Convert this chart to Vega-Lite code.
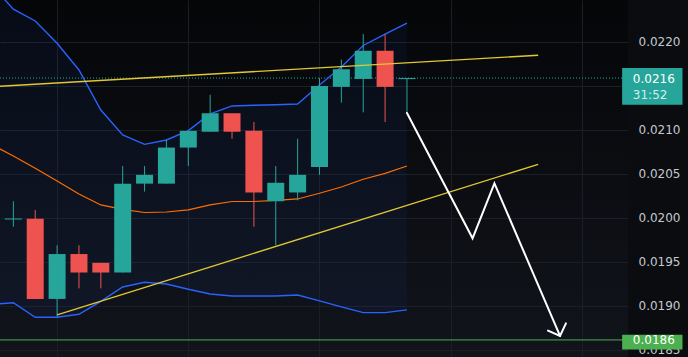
{
  "$schema": "https://vega.github.io/schema/vega-lite/v6.json",
  "width": 628,
  "height": 357,
  "autosize": {"type": "none"},
  "padding": {"left": 0, "top": 0, "right": 60, "bottom": 0},
  "background": "#0a0c10",
  "config": {
    "view": {
      "stroke": null,
      "fill": {"gradient": "linear", "x1": 0, "y1": 0, "x2": 0, "y2": 1,
        "stops": [{"offset": 0, "color": "#050608"}, {"offset": 1, "color": "#11141b"}]}
    },
    "axisX": {"values": [2, 8, 14, 20, 26], "labels": false, "ticks": false, "domain": false,
      "grid": true, "gridColor": "#1b1e27", "gridWidth": 1, "title": null},
    "axisY": {"domain": false, "ticks": false, "grid": true, "gridColor": "#1b1e27",
      "labelColor": "#c5c8ce", "labelFont": "DejaVu Sans", "labelFontSize": 12, "labelPadding": 10,
      "labelFlush": false, "labelOverlap": false, "labelBound": false, "title": null}
  },
  "datasets": {
    "bb": [
      {"i": -1, "up": 0.022648, "mid": 0.020833, "lo": 0.019017},
      {"i": 0, "up": 0.022372, "mid": 0.020705, "lo": 0.019037},
      {"i": 1, "up": 0.022239, "mid": 0.020565, "lo": 0.018872},
      {"i": 2, "up": 0.021985, "mid": 0.02042, "lo": 0.018872},
      {"i": 3, "up": 0.021682, "mid": 0.020273, "lo": 0.018906},
      {"i": 4, "up": 0.021227, "mid": 0.020148, "lo": 0.019053},
      {"i": 5, "up": 0.020943, "mid": 0.020097, "lo": 0.019216},
      {"i": 6, "up": 0.020837, "mid": 0.020062, "lo": 0.019269},
      {"i": 7, "up": 0.020886, "mid": 0.020068, "lo": 0.01925},
      {"i": 8, "up": 0.020992, "mid": 0.020091, "lo": 0.01919},
      {"i": 9, "up": 0.021182, "mid": 0.020148, "lo": 0.019136},
      {"i": 10, "up": 0.021273, "mid": 0.020187, "lo": 0.019114},
      {"i": 11, "up": 0.021281, "mid": 0.020187, "lo": 0.019114},
      {"i": 12, "up": 0.021287, "mid": 0.020201, "lo": 0.019114},
      {"i": 13, "up": 0.021295, "mid": 0.020216, "lo": 0.019125},
      {"i": 14, "up": 0.021511, "mid": 0.020281, "lo": 0.019057},
      {"i": 15, "up": 0.021716, "mid": 0.020352, "lo": 0.018989},
      {"i": 16, "up": 0.02196, "mid": 0.02044, "lo": 0.018924},
      {"i": 17, "up": 0.022088, "mid": 0.020506, "lo": 0.018924},
      {"i": 18, "up": 0.022213, "mid": 0.020591, "lo": 0.018955}
    ],
    "candles": [
      {"i": 0, "o": 0.019982, "h": 0.02019, "l": 0.0199, "c": 0.019994, "dir": "up"},
      {"i": 1, "o": 0.01999, "h": 0.02009, "l": 0.01908, "c": 0.01908, "dir": "down"},
      {"i": 2, "o": 0.01908, "h": 0.01969, "l": 0.01888, "c": 0.01959, "dir": "up"},
      {"i": 3, "o": 0.01959, "h": 0.01969, "l": 0.0192, "c": 0.01938, "dir": "down"},
      {"i": 4, "o": 0.01949, "h": 0.01949, "l": 0.0192, "c": 0.01938, "dir": "down"},
      {"i": 5, "o": 0.01938, "h": 0.02059, "l": 0.01938, "c": 0.02039, "dir": "up"},
      {"i": 6, "o": 0.02039, "h": 0.02059, "l": 0.0203, "c": 0.02049, "dir": "up"},
      {"i": 7, "o": 0.02039, "h": 0.02089, "l": 0.02039, "c": 0.0208, "dir": "up"},
      {"i": 8, "o": 0.0208, "h": 0.02099, "l": 0.02059, "c": 0.02099, "dir": "up"},
      {"i": 9, "o": 0.02098, "h": 0.0214, "l": 0.02098, "c": 0.02119, "dir": "up"},
      {"i": 10, "o": 0.02119, "h": 0.02119, "l": 0.0209, "c": 0.02098, "dir": "down"},
      {"i": 11, "o": 0.02099, "h": 0.02109, "l": 0.0199, "c": 0.02029, "dir": "down"},
      {"i": 12, "o": 0.02019, "h": 0.02059, "l": 0.01969, "c": 0.0204, "dir": "up"},
      {"i": 13, "o": 0.02029, "h": 0.0209, "l": 0.0202, "c": 0.02049, "dir": "up"},
      {"i": 14, "o": 0.02058, "h": 0.02159, "l": 0.02049, "c": 0.0215, "dir": "up"},
      {"i": 15, "o": 0.02149, "h": 0.0218, "l": 0.02131, "c": 0.02169, "dir": "up"},
      {"i": 16, "o": 0.02158, "h": 0.02209, "l": 0.0212, "c": 0.0219, "dir": "up"},
      {"i": 17, "o": 0.0219, "h": 0.02209, "l": 0.02109, "c": 0.02149, "dir": "down"},
      {"i": 18, "o": 0.021578, "h": 0.02159, "l": 0.02119, "c": 0.02159, "dir": "up"}
    ],
    "trend": [
      {"line": "upper", "i": -1, "p": 0.021491},
      {"line": "upper", "i": 24, "p": 0.021849},
      {"line": "lower", "i": 2, "p": 0.018898},
      {"line": "lower", "i": 24, "p": 0.02061}
    ],
    "arrow": [
      {"seg": "shaft", "n": 0, "i": 18, "p": 0.021193},
      {"seg": "shaft", "n": 1, "i": 21, "p": 0.019769},
      {"seg": "shaft", "n": 2, "i": 22, "p": 0.020394},
      {"seg": "shaft", "n": 3, "i": 25, "p": 0.018659},
      {"seg": "head", "n": 0, "i": 24.45, "p": 0.01872},
      {"seg": "head", "n": 1, "i": 25, "p": 0.018659},
      {"seg": "head", "n": 2, "i": 25.27, "p": 0.018803}
    ],
    "boxes": [
      {"kind": "last", "top": 0.021705, "bot": 0.021288},
      {"kind": "target", "top": 0.018674, "bot": 0.018506}
    ],
    "mainText": [
      {"t": "0.0216", "p": 0.021583},
      {"t": "0.0186", "p": 0.018608}
    ],
    "subText": [
      {"t": "31:52", "p": 0.021401}
    ],
    "lastLevel": [{"p": 0.02159}],
    "targetLevel": [{"p": 0.018614}]
  },
  "layer": [
    {
      "data": {"name": "bb"},
      "mark": {"type": "area", "color": "#2962ff", "opacity": 0.06, "clip": true},
      "encoding": {
        "x": {"field": "i", "type": "quantitative", "scale": {"domain": [-0.3825, 27.88], "nice": false, "zero": false}, "axis": {"values": [2, 8, 14, 20, 26]}},
        "y": {"field": "up", "type": "quantitative", "scale": {"domain": [0.01842, 0.022477], "nice": false, "zero": false}, "axis": {"orient": "right", "values": [0.0185, 0.019, 0.0195, 0.02, 0.0205, 0.021, 0.0215, 0.022, 0.0225], "format": ".4f", "labelExpr": "datum.label == '0.0215' ? '' : datum.label"}},
        "y2": {"field": "lo"}
      }
    },
    {
      "data": {"name": "lastLevel"},
      "mark": {"type": "rule", "color": "#26a69a", "strokeWidth": 1, "strokeDash": [1, 2]},
      "encoding": {
        "y": {"field": "p", "type": "quantitative", "scale": {"domain": [0.01842, 0.022477], "nice": false, "zero": false}, "axis": {"orient": "right", "values": [0.0185, 0.019, 0.0195, 0.02, 0.0205, 0.021, 0.0215, 0.022, 0.0225], "format": ".4f", "labelExpr": "datum.label == '0.0215' ? '' : datum.label"}}
      }
    },
    {
      "data": {"name": "bb"},
      "mark": {"type": "line", "color": "#2962ff", "strokeWidth": 1.4, "clip": true},
      "encoding": {
        "x": {"field": "i", "type": "quantitative", "scale": {"domain": [-0.3825, 27.88], "nice": false, "zero": false}, "axis": {"values": [2, 8, 14, 20, 26]}},
        "y": {"field": "up", "type": "quantitative", "scale": {"domain": [0.01842, 0.022477], "nice": false, "zero": false}, "axis": {"orient": "right", "values": [0.0185, 0.019, 0.0195, 0.02, 0.0205, 0.021, 0.0215, 0.022, 0.0225], "format": ".4f", "labelExpr": "datum.label == '0.0215' ? '' : datum.label"}}
      }
    },
    {
      "data": {"name": "bb"},
      "mark": {"type": "line", "color": "#2962ff", "strokeWidth": 1.4, "clip": true},
      "encoding": {
        "x": {"field": "i", "type": "quantitative", "scale": {"domain": [-0.3825, 27.88], "nice": false, "zero": false}, "axis": {"values": [2, 8, 14, 20, 26]}},
        "y": {"field": "lo", "type": "quantitative", "scale": {"domain": [0.01842, 0.022477], "nice": false, "zero": false}, "axis": {"orient": "right", "values": [0.0185, 0.019, 0.0195, 0.02, 0.0205, 0.021, 0.0215, 0.022, 0.0225], "format": ".4f", "labelExpr": "datum.label == '0.0215' ? '' : datum.label"}}
      }
    },
    {
      "data": {"name": "bb"},
      "mark": {"type": "line", "color": "#ff6d00", "strokeWidth": 1.2, "clip": true},
      "encoding": {
        "x": {"field": "i", "type": "quantitative", "scale": {"domain": [-0.3825, 27.88], "nice": false, "zero": false}, "axis": {"values": [2, 8, 14, 20, 26]}},
        "y": {"field": "mid", "type": "quantitative", "scale": {"domain": [0.01842, 0.022477], "nice": false, "zero": false}, "axis": {"orient": "right", "values": [0.0185, 0.019, 0.0195, 0.02, 0.0205, 0.021, 0.0215, 0.022, 0.0225], "format": ".4f", "labelExpr": "datum.label == '0.0215' ? '' : datum.label"}}
      }
    },
    {
      "data": {"name": "candles"},
      "mark": {"type": "rule", "strokeWidth": 1},
      "encoding": {
        "x": {"field": "i", "type": "quantitative", "scale": {"domain": [-0.3825, 27.88], "nice": false, "zero": false}, "axis": {"values": [2, 8, 14, 20, 26]}},
        "y": {"field": "h", "type": "quantitative", "scale": {"domain": [0.01842, 0.022477], "nice": false, "zero": false}, "axis": {"orient": "right", "values": [0.0185, 0.019, 0.0195, 0.02, 0.0205, 0.021, 0.0215, 0.022, 0.0225], "format": ".4f", "labelExpr": "datum.label == '0.0215' ? '' : datum.label"}},
        "y2": {"field": "l"},
        "color": {"field": "dir", "type": "nominal",
          "scale": {"domain": ["up", "down", "last", "target"], "range": ["#26a69a", "#ef5350", "#26a69a", "#4caf50"]}, "legend": null}
      }
    },
    {
      "data": {"name": "candles"},
      "mark": {"type": "bar", "size": 17, "opacity": 1},
      "encoding": {
        "x": {"field": "i", "type": "quantitative", "scale": {"domain": [-0.3825, 27.88], "nice": false, "zero": false}, "axis": {"values": [2, 8, 14, 20, 26]}},
        "y": {"field": "o", "type": "quantitative", "scale": {"domain": [0.01842, 0.022477], "nice": false, "zero": false}, "axis": {"orient": "right", "values": [0.0185, 0.019, 0.0195, 0.02, 0.0205, 0.021, 0.0215, 0.022, 0.0225], "format": ".4f", "labelExpr": "datum.label == '0.0215' ? '' : datum.label"}},
        "y2": {"field": "c"},
        "color": {"field": "dir", "type": "nominal",
          "scale": {"domain": ["up", "down", "last", "target"], "range": ["#26a69a", "#ef5350", "#26a69a", "#4caf50"]}, "legend": null}
      }
    },
    {
      "data": {"name": "trend"},
      "mark": {"type": "line", "color": "#e2c832", "strokeWidth": 1.3, "clip": true},
      "encoding": {
        "x": {"field": "i", "type": "quantitative", "scale": {"domain": [-0.3825, 27.88], "nice": false, "zero": false}, "axis": {"values": [2, 8, 14, 20, 26]}},
        "y": {"field": "p", "type": "quantitative", "scale": {"domain": [0.01842, 0.022477], "nice": false, "zero": false}, "axis": {"orient": "right", "values": [0.0185, 0.019, 0.0195, 0.02, 0.0205, 0.021, 0.0215, 0.022, 0.0225], "format": ".4f", "labelExpr": "datum.label == '0.0215' ? '' : datum.label"}},
        "detail": {"field": "line", "type": "nominal"}
      }
    },
    {
      "data": {"name": "targetLevel"},
      "mark": {"type": "rule", "color": "#4caf50", "strokeWidth": 1},
      "encoding": {
        "y": {"field": "p", "type": "quantitative", "scale": {"domain": [0.01842, 0.022477], "nice": false, "zero": false}, "axis": {"orient": "right", "values": [0.0185, 0.019, 0.0195, 0.02, 0.0205, 0.021, 0.0215, 0.022, 0.0225], "format": ".4f", "labelExpr": "datum.label == '0.0215' ? '' : datum.label"}}
      }
    },
    {
      "data": {"name": "arrow"},
      "mark": {"type": "line", "color": "#ffffff", "strokeWidth": 2, "strokeJoin": "miter", "strokeCap": "round", "clip": true},
      "encoding": {
        "x": {"field": "i", "type": "quantitative", "scale": {"domain": [-0.3825, 27.88], "nice": false, "zero": false}, "axis": {"values": [2, 8, 14, 20, 26]}},
        "y": {"field": "p", "type": "quantitative", "scale": {"domain": [0.01842, 0.022477], "nice": false, "zero": false}, "axis": {"orient": "right", "values": [0.0185, 0.019, 0.0195, 0.02, 0.0205, 0.021, 0.0215, 0.022, 0.0225], "format": ".4f", "labelExpr": "datum.label == '0.0215' ? '' : datum.label"}},
        "detail": {"field": "seg", "type": "nominal"},
        "order": {"field": "n", "type": "quantitative"}
      }
    },
    {
      "data": {"name": "boxes"},
      "mark": {"type": "rect", "clip": false},
      "encoding": {
        "x": {"datum": 27.84, "type": "quantitative", "scale": {"domain": [-0.3825, 27.88], "nice": false, "zero": false}, "axis": {"values": [2, 8, 14, 20, 26]}},
        "x2": {"datum": 30.6},
        "y": {"field": "top", "type": "quantitative", "scale": {"domain": [0.01842, 0.022477], "nice": false, "zero": false}, "axis": {"orient": "right", "values": [0.0185, 0.019, 0.0195, 0.02, 0.0205, 0.021, 0.0215, 0.022, 0.0225], "format": ".4f", "labelExpr": "datum.label == '0.0215' ? '' : datum.label"}},
        "y2": {"field": "bot"},
        "color": {"field": "kind", "type": "nominal",
          "scale": {"domain": ["up", "down", "last", "target"], "range": ["#26a69a", "#ef5350", "#26a69a", "#4caf50"]}, "legend": null}
      }
    },
    {
      "data": {"name": "mainText"},
      "mark": {"type": "text", "align": "left", "baseline": "middle", "font": "DejaVu Sans", "fontSize": 12, "color": "#ffffff", "clip": false},
      "encoding": {
        "x": {"datum": 28.33, "type": "quantitative", "scale": {"domain": [-0.3825, 27.88], "nice": false, "zero": false}, "axis": {"values": [2, 8, 14, 20, 26]}},
        "y": {"field": "p", "type": "quantitative", "scale": {"domain": [0.01842, 0.022477], "nice": false, "zero": false}, "axis": {"orient": "right", "values": [0.0185, 0.019, 0.0195, 0.02, 0.0205, 0.021, 0.0215, 0.022, 0.0225], "format": ".4f", "labelExpr": "datum.label == '0.0215' ? '' : datum.label"}},
        "text": {"field": "t"}
      }
    },
    {
      "data": {"name": "subText"},
      "mark": {"type": "text", "align": "left", "baseline": "middle", "font": "DejaVu Sans", "fontSize": 12, "color": "#d2eeea", "clip": false},
      "encoding": {
        "x": {"datum": 28.33, "type": "quantitative", "scale": {"domain": [-0.3825, 27.88], "nice": false, "zero": false}, "axis": {"values": [2, 8, 14, 20, 26]}},
        "y": {"field": "p", "type": "quantitative", "scale": {"domain": [0.01842, 0.022477], "nice": false, "zero": false}, "axis": {"orient": "right", "values": [0.0185, 0.019, 0.0195, 0.02, 0.0205, 0.021, 0.0215, 0.022, 0.0225], "format": ".4f", "labelExpr": "datum.label == '0.0215' ? '' : datum.label"}},
        "text": {"field": "t"}
      }
    }
  ]
}
